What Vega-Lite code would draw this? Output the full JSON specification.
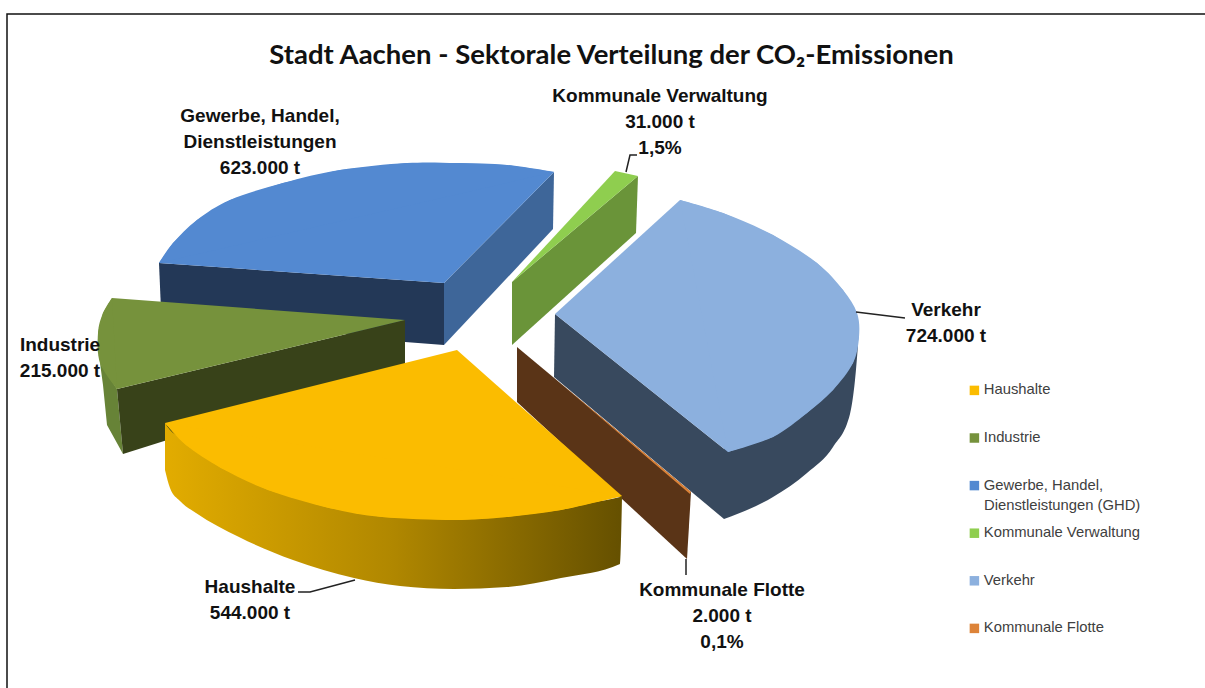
{
"$schema":"https://vega.github.io/schema/vega-lite/v6.json",
"width":1205,"height":688,"padding":0,"autosize":"none","background":"#ffffff",
"title":{"text":"Stadt Aachen - Sektorale Verteilung der CO₂-Emissionen","font":"Lato","fontSize":27.5,"fontWeight":"bold","color":"#111111","anchor":"middle","frame":"group","offset":-69,"dx":9},
"config":{"view":{"stroke":null}},
"datasets":{
"frame":[{"id":"frame","seq":1,"x":7,"y":688},{"id":"frame","seq":2,"x":7,"y":14},{"id":"frame","seq":3,"x":1205,"y":14}],
"leaders":[
{"id":"kv","seq":1,"x":626,"y":172},{"id":"kv","seq":2,"x":630,"y":155},{"id":"kv","seq":3,"x":637,"y":155},
{"id":"vk","seq":1,"x":856,"y":312},{"id":"vk","seq":2,"x":905,"y":318},
{"id":"hh","seq":1,"x":298,"y":592},{"id":"hh","seq":2,"x":310,"y":592},{"id":"hh","seq":3,"x":355,"y":580},
{"id":"fl","seq":1,"x":686,"y":559},{"id":"fl","seq":2,"x":686,"y":575}],
"sides":[
{"face":"a GHD vorn","seq":1,"x":159,"y":263},{"face":"a GHD vorn","seq":2,"x":444,"y":283},{"face":"a GHD vorn","seq":3,"x":444,"y":345},{"face":"a GHD vorn","seq":4,"x":405,"y":342},{"face":"a GHD vorn","seq":5,"x":161,"y":310},
{"face":"b GHD rechts","seq":1,"x":444,"y":283},{"face":"b GHD rechts","seq":2,"x":554,"y":172},{"face":"b GHD rechts","seq":3,"x":553,"y":229},{"face":"b GHD rechts","seq":4,"x":444,"y":345},
{"face":"c KV","seq":1,"x":638,"y":176},{"face":"c KV","seq":2,"x":636,"y":233},{"face":"c KV","seq":3,"x":512,"y":345},{"face":"c KV","seq":4,"x":512,"y":282},
{"face":"d Verkehr","seq":1,"x":555,"y":314},{"face":"d Verkehr","seq":2,"x":728,"y":452},{"face":"d Verkehr","seq":3,"x":724,"y":519},{"face":"d Verkehr","seq":4,"x":554,"y":377},
{"face":"e Flotte","seq":1,"x":517,"y":347},{"face":"e Flotte","seq":2,"x":691,"y":492},{"face":"e Flotte","seq":3,"x":687,"y":559},{"face":"e Flotte","seq":4,"x":517,"y":402},
{"face":"f Industrie rand","seq":1,"x":100,"y":363},{"face":"f Industrie rand","seq":2,"x":117,"y":389},{"face":"f Industrie rand","seq":3,"x":123,"y":454},{"face":"f Industrie rand","seq":4,"x":107,"y":425},{"face":"f Industrie rand","seq":5,"x":103,"y":385},
{"face":"g Industrie vorn","seq":1,"x":117,"y":389},{"face":"g Industrie vorn","seq":2,"x":405,"y":320},{"face":"g Industrie vorn","seq":3,"x":405,"y":365},{"face":"g Industrie vorn","seq":4,"x":123,"y":454}],
"rimVerkehr":[
{"x":724,"y":445,"y2":519},{"x":773,"y":425,"y2":497},{"x":807,"y":400,"y2":473},{"x":833,"y":375,"y2":447},{"x":850,"y":350,"y2":414},{"x":855,"y":340,"y2":380},{"x":858,"y":335,"y2":345}],
"rimHaushalte":[
{"x":165,"y":423,"y2":470},{"x":170,"y":430,"y2":488},{"x":180,"y":437,"y2":501},{"x":196,"y":445,"y2":513},{"x":239,"y":470,"y2":537},{"x":293,"y":490,"y2":560},{"x":354,"y":505,"y2":578},{"x":400,"y":512,"y2":586},{"x":454,"y":515,"y2":589},{"x":507,"y":512,"y2":587},{"x":561,"y":505,"y2":578},{"x":620,"y":497,"y2":564},{"x":622,"y":496,"y2":497}],
"tops":[
{"sector":"Haushalte","seq":1,"x":457,"y":350},{"sector":"Haushalte","seq":2,"rim":true,"x":622,"y":496},{"sector":"Haushalte","seq":3,"rim":true,"x":561,"y":510},{"sector":"Haushalte","seq":4,"rim":true,"x":507,"y":517},{"sector":"Haushalte","seq":5,"rim":true,"x":454,"y":520},{"sector":"Haushalte","seq":6,"rim":true,"x":382,"y":517},{"sector":"Haushalte","seq":7,"rim":true,"x":329,"y":508},{"sector":"Haushalte","seq":8,"rim":true,"x":268,"y":490},{"sector":"Haushalte","seq":9,"rim":true,"x":221,"y":468},{"sector":"Haushalte","seq":10,"rim":true,"x":186,"y":445},{"sector":"Haushalte","seq":11,"rim":true,"x":165,"y":423},
{"sector":"Industrie","seq":1,"x":405,"y":320},{"sector":"Industrie","seq":2,"rim":true,"x":117,"y":389},{"sector":"Industrie","seq":3,"rim":true,"x":100,"y":363},{"sector":"Industrie","seq":4,"rim":true,"x":98,"y":333},{"sector":"Industrie","seq":5,"rim":true,"x":103,"y":313},{"sector":"Industrie","seq":6,"rim":true,"x":112,"y":298},
{"sector":"Gewerbe, Handel, Dienstleistungen (GHD)","seq":1,"rim":true,"x":159,"y":263},{"sector":"Gewerbe, Handel, Dienstleistungen (GHD)","seq":2,"rim":true,"x":173,"y":243},{"sector":"Gewerbe, Handel, Dienstleistungen (GHD)","seq":3,"rim":true,"x":197,"y":220},{"sector":"Gewerbe, Handel, Dienstleistungen (GHD)","seq":4,"rim":true,"x":230,"y":200},{"sector":"Gewerbe, Handel, Dienstleistungen (GHD)","seq":5,"rim":true,"x":283,"y":183},{"sector":"Gewerbe, Handel, Dienstleistungen (GHD)","seq":6,"rim":true,"x":340,"y":170},{"sector":"Gewerbe, Handel, Dienstleistungen (GHD)","seq":7,"rim":true,"x":407,"y":163},{"sector":"Gewerbe, Handel, Dienstleistungen (GHD)","seq":8,"rim":true,"x":457,"y":163},{"sector":"Gewerbe, Handel, Dienstleistungen (GHD)","seq":9,"rim":true,"x":507,"y":165},{"sector":"Gewerbe, Handel, Dienstleistungen (GHD)","seq":10,"rim":true,"x":554,"y":172},{"sector":"Gewerbe, Handel, Dienstleistungen (GHD)","seq":11,"x":444,"y":283},
{"sector":"Kommunale Verwaltung","seq":1,"x":615,"y":171},{"sector":"Kommunale Verwaltung","seq":2,"x":638,"y":176},{"sector":"Kommunale Verwaltung","seq":3,"x":512,"y":282},
{"sector":"Verkehr","seq":1,"rim":true,"x":680,"y":200},{"sector":"Verkehr","seq":2,"rim":true,"x":723,"y":213},{"sector":"Verkehr","seq":3,"rim":true,"x":773,"y":235},{"sector":"Verkehr","seq":4,"rim":true,"x":817,"y":263},{"sector":"Verkehr","seq":5,"rim":true,"x":843,"y":290},{"sector":"Verkehr","seq":6,"rim":true,"x":857,"y":313},{"sector":"Verkehr","seq":7,"rim":true,"x":859,"y":337},{"sector":"Verkehr","seq":8,"rim":true,"x":853,"y":363},{"sector":"Verkehr","seq":9,"rim":true,"x":833,"y":390},{"sector":"Verkehr","seq":10,"rim":true,"x":807,"y":413},{"sector":"Verkehr","seq":11,"rim":true,"x":773,"y":437},{"sector":"Verkehr","seq":12,"rim":true,"x":728,"y":452},{"sector":"Verkehr","seq":13,"x":555,"y":314},
{"sector":"Kommunale Flotte","seq":1,"x":560,"y":383},{"sector":"Kommunale Flotte","seq":2,"x":691,"y":492},{"sector":"Kommunale Flotte","seq":3,"x":690,"y":494}],
"labels":[
{"label":"Gewerbe, Handel,\nDienstleistungen\n623.000 t","x":260,"y":122},
{"label":"Kommunale Verwaltung\n31.000 t\n1,5%","x":660,"y":102},
{"label":"Verkehr\n724.000 t","x":946,"y":316},
{"label":"Industrie\n215.000 t","x":60,"y":351},
{"label":"Haushalte\n544.000 t","x":250,"y":593},
{"label":"Kommunale Flotte\n2.000 t\n0,1%","x":722,"y":596}],
"legendLine":[{"label":"Dienstleistungen (GHD)","x":984,"y":510}]
},
"encoding":{
"x":{"field":"x","type":"quantitative","axis":null,"scale":{"domain":[0,1205],"nice":false,"zero":false}},
"y":{"field":"y","type":"quantitative","axis":null,"scale":{"domain":[688,0],"nice":false,"zero":false}}
},
"layer":[
{"data":{"name":"frame"},"mark":{"type":"line","stroke":"#111111","strokeWidth":1.5,"clip":false},"encoding":{"detail":{"field":"id"},"order":{"field":"seq"}}},
{"data":{"name":"sides"},"mark":{"type":"line","interpolate":"linear-closed","strokeWidth":0},
 "encoding":{"order":{"field":"seq"},"fill":{"field":"face","type":"nominal","legend":null,"scale":{"domain":["a GHD vorn","b GHD rechts","c KV","d Verkehr","e Flotte","f Industrie rand","g Industrie vorn"],"range":["#233857","#3E6699","#6A9439","#38495E","#5A3417","#678337","#384219"]}}}},
{"data":{"name":"rimVerkehr"},"mark":{"type":"area","interpolate":"monotone","fill":"#38495E"},"encoding":{"y2":{"field":"y2"}}},
{"data":{"name":"rimHaushalte"},"mark":{"type":"area","interpolate":"monotone","fill":{"gradient":"linear","x1":0,"y1":0,"x2":1,"y2":0,"stops":[{"offset":0,"color":"#E2AC00"},{"offset":0.5,"color":"#B08700"},{"offset":1,"color":"#655000"}]}},"encoding":{"y2":{"field":"y2"}}},
{"data":{"name":"tops"},"mark":{"type":"line","interpolate":"linear-closed","strokeWidth":0},
 "encoding":{"order":{"field":"seq"},"fill":{"field":"sector","type":"nominal","scale":{"domain":["Haushalte","Industrie","Gewerbe, Handel, Dienstleistungen (GHD)","Kommunale Verwaltung","Verkehr","Kommunale Flotte"],"range":["#FBBC00","#76923C","#5389D1","#8FCE4F","#8CB0DE","#DD8338"]},
  "legend":{"title":null,"orient":"none","legendX":967,"legendY":383,"symbolType":"square","symbolSize":90,"symbolStrokeWidth":0,"labelFont":"Liberation Sans","labelFontSize":14.8,"labelColor":"#404040","labelOffset":2,"rowPadding":31.6,"labelLimit":220,"labelExpr":"datum.label == 'Gewerbe, Handel, Dienstleistungen (GHD)' ? 'Gewerbe, Handel,' : datum.label"}}}},
{"data":{"name":"tops"},"transform":[{"filter":"datum.rim"}],"mark":{"type":"line","interpolate":"cardinal","strokeWidth":0},
 "encoding":{"order":{"field":"seq"},"fill":{"field":"sector","type":"nominal","legend":null,"scale":{"domain":["Haushalte","Industrie","Gewerbe, Handel, Dienstleistungen (GHD)","Verkehr"],"range":["#FBBC00","#76923C","#5389D1","#8CB0DE"]}}}},
{"data":{"name":"leaders"},"mark":{"type":"line","stroke":"#222222","strokeWidth":1.5},"encoding":{"detail":{"field":"id"},"order":{"field":"seq"}}},
{"data":{"name":"labels"},"mark":{"type":"text","font":"Liberation Sans","fontWeight":"bold","fontSize":19,"lineHeight":26,"lineBreak":"\n","align":"center","baseline":"alphabetic","color":"#111111"},"encoding":{"text":{"field":"label"}}},
{"data":{"name":"legendLine"},"mark":{"type":"text","font":"Liberation Sans","fontSize":14.8,"align":"left","baseline":"alphabetic","color":"#404040"},"encoding":{"text":{"field":"label"}}}
],
"resolve":{"scale":{"fill":"independent"}}
}
